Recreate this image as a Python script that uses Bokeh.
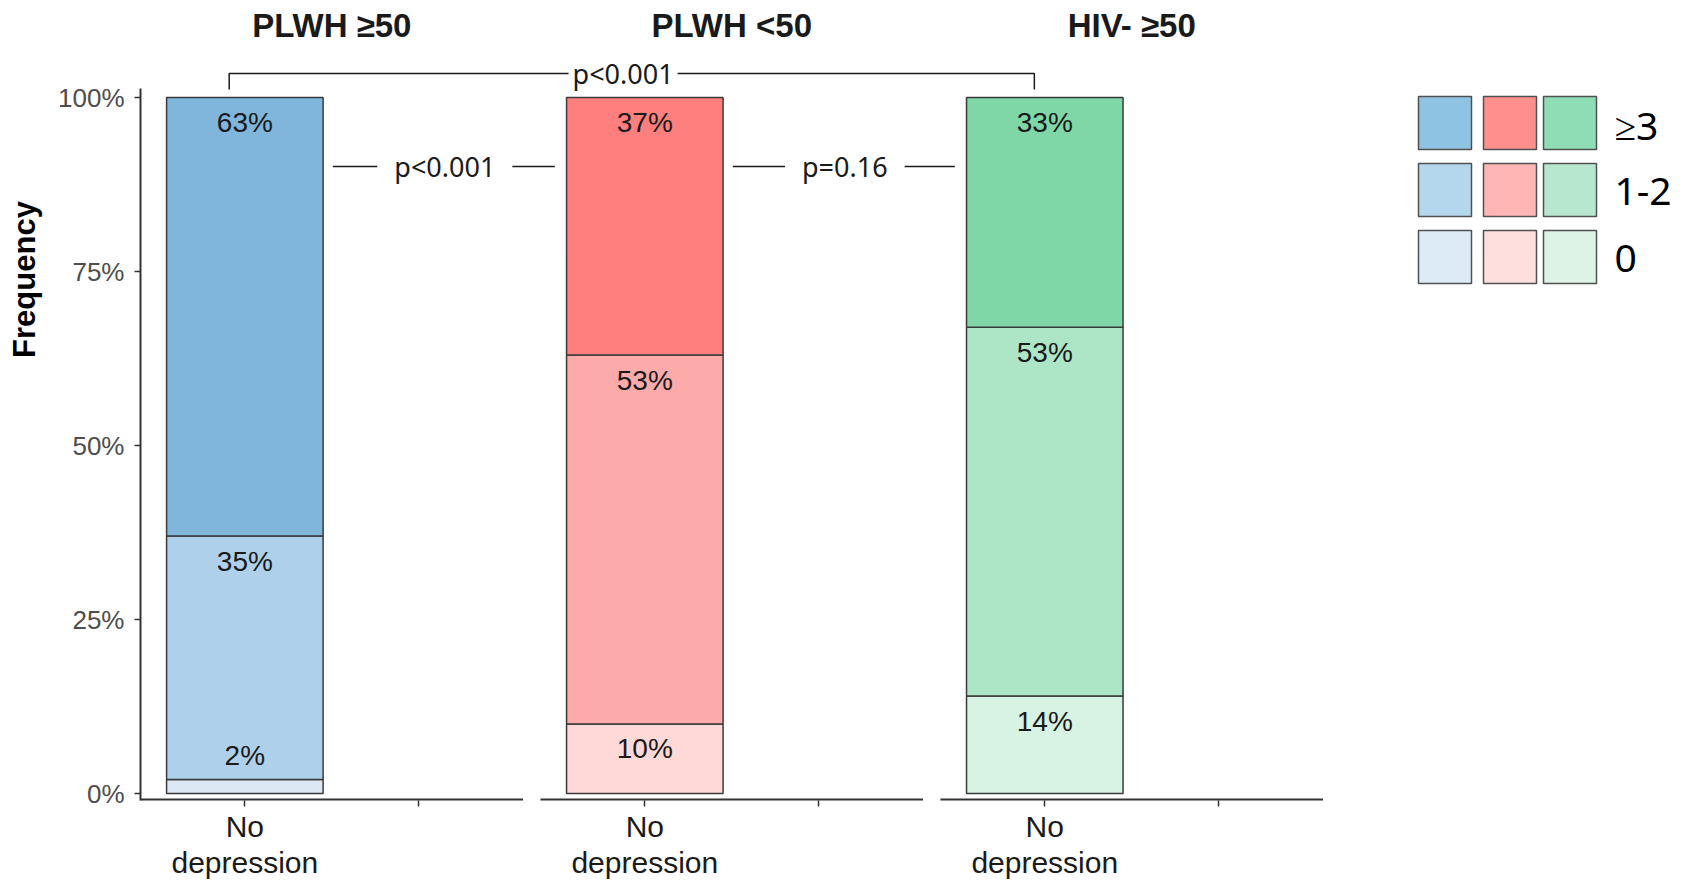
import math
from bokeh.plotting import figure
from bokeh.models import FixedTicker
from bokeh.core.properties import value
from bokeh.embed import file_html
from bokeh.resources import INLINE

# ---------------- data ----------------
groups = ["PLWH ≥50", "PLWH <50", "HIV- ≥50"]
categories = ["No\ndepression", ""]
levels = ["≥3", "1-2", "0"]
pct_0 = [2, 10, 14]
pct_12 = [35, 53, 53]
pct_3 = [63, 37, 33]
y_ticks = [0, 25, 50, 75, 100]
y_tick_labels = ["0%", "25%", "50%", "75%", "100%"]
p_adjacent = ["p<0.001", "p=0.16"]
p_overall = "p<0.001"
bar_colors_0 = ["#DCE9F5", "#FFD8D8", "#D8F2E3"]
bar_colors_12 = ["#AED0EA", "#FDAAAB", "#ADE6C7"]
bar_colors_3 = ["#80B6DC", "#FF7F7F", "#7FD7A7"]
legend_colors_3 = ["#8FC3E3", "#FF8F8C", "#8FDDB4"]
legend_colors_12 = ["#B5D7EE", "#FFB6B5", "#B7E8CF"]
legend_colors_0 = ["#DDEBF7", "#FFDEDE", "#DDF3E6"]

# ---------------- layout ----------------
W, H = 1688, 884
PANEL = 23      # x units between panels
CAT = 10        # x units between categories
BAR_W = 9
UX = 17.39      # px per x unit
UY = 6.96       # px per percent
X_LEFT_PX = 140
Y0_PX = 793
AXIS_Y_PX = 800


def dx(px):
    return 4 + (px - X_LEFT_PX) / UX


def dy(py):
    return (Y0_PX - py) / UY


p = figure(width=W, height=H,
           x_range=(dx(0), dx(W)), y_range=(dy(H), dy(0)),
           output_backend="svg", toolbar_location=None, min_border=0)
p.outline_line_color = None
p.grid.visible = False
p.background_fill_color = "white"

FONT = value("Liberation Sans")
FONT2 = value("Noto Sans")
DARK = "#333333"

# ---------------- bars ----------------
xs = [g * PANEL + CAT for g in range(len(groups))]
bottom = [0] * len(groups)
lab_x, lab_y, lab_t = [], [], []
for vals, cols in [(pct_0, bar_colors_0), (pct_12, bar_colors_12), (pct_3, bar_colors_3)]:
    top = [b + v for b, v in zip(bottom, vals)]
    p.vbar(x=xs, bottom=bottom, top=top, width=BAR_W, fill_color=cols,
           line_color="#3a3a3a", line_width=1.5)
    lab_x += xs
    lab_y += [t + 3.5 if v < 5 else t - 3.6 for t, v in zip(top, vals)]
    lab_t += [f"{v}%" for v in vals]
    bottom = top
p.text(x=lab_x, y=lab_y, text=lab_t, text_font=FONT,
       text_font_size="28px", text_align="center", text_baseline="middle",
       text_color="#1a1a1a")

# ---------------- axes ----------------
p.yaxis.fixed_location = dx(X_LEFT_PX)
p.yaxis.ticker = FixedTicker(ticks=y_ticks)
p.yaxis.major_label_overrides = {t: l for t, l in zip(y_ticks, y_tick_labels)}
p.yaxis.bounds = (dy(AXIS_Y_PX), dy(88))
p.yaxis.minor_tick_line_color = None
p.yaxis.major_tick_out = 6
p.yaxis.major_tick_in = 0
p.yaxis.major_tick_line_color = DARK
p.yaxis.major_tick_line_width = 1.5
p.yaxis.axis_line_color = DARK
p.yaxis.axis_line_width = 2
p.yaxis.major_label_text_font = "Liberation Sans"
p.yaxis.major_label_text_font_size = "26px"
p.yaxis.major_label_text_color = "#4d4d4d"
p.yaxis.major_label_standoff = 10

xticks = [g * PANEL + (i + 1) * CAT for g in range(len(groups)) for i in range(len(categories))]
p.xaxis.fixed_location = dy(AXIS_Y_PX)
p.xaxis.ticker = FixedTicker(ticks=xticks)
p.xaxis.major_label_overrides = {g * PANEL + (i + 1) * CAT: categories[i]
                                 for g in range(len(groups)) for i in range(len(categories))}
p.xaxis.axis_line_color = None
p.xaxis.minor_tick_line_color = None
p.xaxis.major_tick_out = 6
p.xaxis.major_tick_in = 0
p.xaxis.major_tick_line_color = DARK
p.xaxis.major_tick_line_width = 1.5
p.xaxis.major_label_text_font = "Liberation Sans"
p.xaxis.major_label_text_font_size = "30px"
p.xaxis.major_label_text_line_height = 1.1
p.xaxis.major_label_text_color = "#1a1a1a"
p.xaxis.major_label_standoff = 3

# panel x-axis lines
p.segment(x0=[g * PANEL + 4 for g in range(len(groups))],
          x1=[g * PANEL + 26 for g in range(len(groups))],
          y0=[dy(799)] * len(groups), y1=[dy(799)] * len(groups),
          line_color=DARK, line_width=2)

# panel titles
p.text(x=[g * PANEL + 15 for g in range(len(groups))], y=[dy(25)] * len(groups),
       text=groups, text_font=FONT, text_font_style="bold", text_font_size="33px",
       text_align="center", text_baseline="middle", text_color="#1a1a1a")

# y label
p.text(x=[dx(23.5)], y=[dy(279)], text=["Frequency"], angle=math.pi / 2,
       text_font=FONT, text_font_style="bold", text_font_size="31px",
       text_align="center", text_baseline="middle", text_color="#000000")

# ---------------- p-values ----------------
centers = [g * PANEL + CAT + PANEL / 2 for g in range(len(groups) - 1)]
p.segment(x0=[c - 112 / UX for c in centers], x1=[c + 110 / UX for c in centers],
          y0=[dy(166)] * len(centers), y1=[dy(166)] * len(centers),
          line_color="#1a1a1a", line_width=1.5)
p.text(x=centers, y=[dy(166)] * len(centers), text=p_adjacent, text_font=FONT2,
       text_font_size="27px", text_align="center", text_baseline="middle",
       text_color="#1a1a1a", background_fill_color="white", padding=17)

xl = xs[0] - 0.9
xr = xs[-1] - 0.6
p.line(x=[xl, xl, xr, xr], y=[dy(89), dy(73), dy(73), dy(89)],
       line_color="#1a1a1a", line_width=1.5)
p.text(x=[(xl + xr) / 2 - 0.5], y=[dy(73)], text=[p_overall], text_font=FONT2,
       text_font_size="27px", text_align="center", text_baseline="middle",
       text_color="#1a1a1a", background_fill_color="white", padding=4)

# ---------------- legend ----------------
col_px = [(1418, 1471), (1483, 1536), (1543, 1596)]
row_px = [(96, 149), (163, 216), (230, 283)]
legend_rows = [legend_colors_3, legend_colors_12, legend_colors_0]
lq = dict(left=[], right=[], top=[], bottom=[], color=[])
for r, cols in enumerate(legend_rows):
    for c, col in enumerate(cols):
        lq["left"].append(dx(col_px[c][0]))
        lq["right"].append(dx(col_px[c][1]))
        lq["top"].append(dy(row_px[r][0]))
        lq["bottom"].append(dy(row_px[r][1]))
        lq["color"].append(col)
p.quad(left=lq["left"], right=lq["right"], top=lq["top"], bottom=lq["bottom"],
       fill_color=lq["color"], line_color="#505050", line_width=1.5)
p.text(x=[dx(1614)] * len(levels), y=[dy((a + b) / 2 + 1) for a, b in row_px],
       text=levels, text_font=FONT2, text_font_size="39px", text_align="left",
       text_baseline="middle", text_color="#000000")

open("out.html", "w").write(file_html(p, INLINE))
